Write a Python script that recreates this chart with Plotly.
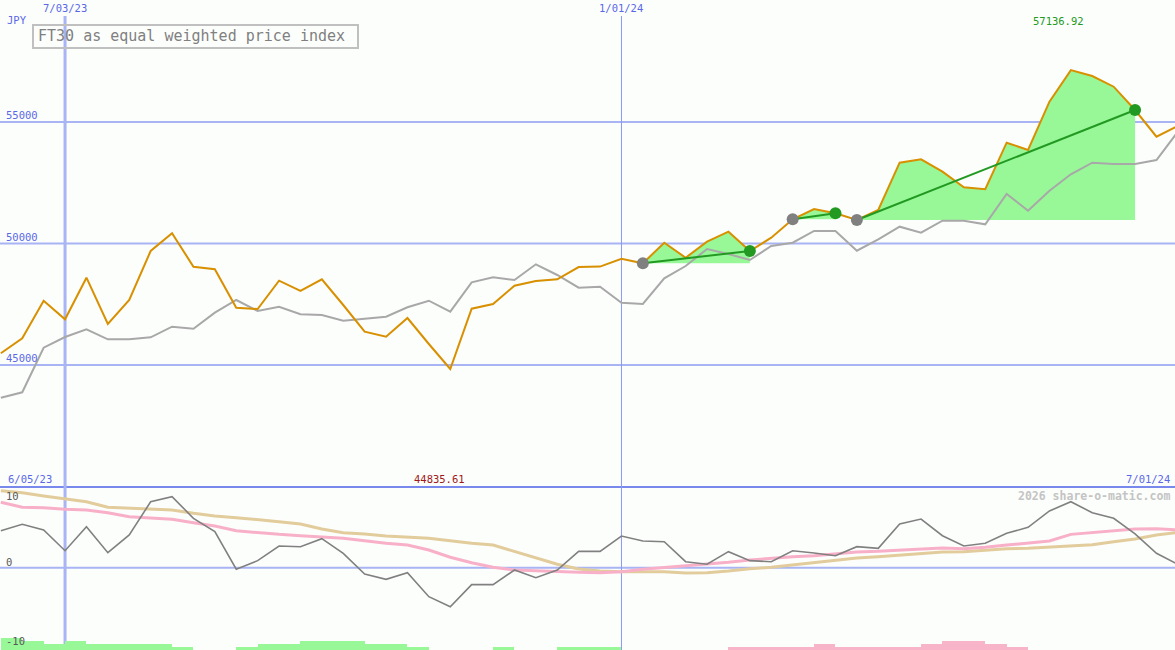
import plotly.graph_objects as go
import pandas as pd

# ---------------- data ----------------
dates = pd.date_range("2023-06-12", periods=56, freq="7D")

index_price = [45482, 46099, 47646, 46881, 48593, 46688, 47675, 49692, 50420, 49046,
               48939, 47358, 47305, 48469, 48046, 48527, 47470, 46371, 46165, 46935,
               45865, 44835.61, 47317, 47511, 48264, 48457, 48527, 49033, 49050, 49375,
               49185, 50033, 49416, 50074, 50486, 49692, 50239, 50996, 51420, 51243,
               50967, 51379, 53325, 53465, 52955, 52313, 52231, 54148, 53848, 55835,
               57136.92, 56893, 56453, 55494, 54395, 54835]

comparison = [43655, 43877, 45712, 46153, 46470, 46058, 46058, 46140, 46577, 46494,
              47153, 47675, 47223, 47400, 47087, 47058, 46823, 46906, 46988, 47375,
              47646, 47194, 48404, 48609, 48498, 49144, 48704, 48181, 48223, 47564,
              47511, 48568, 49074, 49774, 49568, 49321, 49897, 50033, 50515, 50515,
              49704, 50173, 50692, 50445, 50938, 50938, 50790, 52037, 51350, 52173,
              52848, 53325, 53272, 53272, 53436, 54601]

oscillator = [4.68, 5.49, 4.77, 2.15, 5.19, 1.90, 4.14, 8.35, 8.99, 6.25,
              4.56, -0.20, 0.89, 2.75, 2.66, 3.67, 1.82, -0.80, -1.47, -0.63,
              -3.67, -4.94, -2.15, -2.15, -0.29, -1.27, -0.29, 2.07, 2.07, 4.01,
              3.38, 3.29, 0.76, 0.43, 2.03, 0.89, 0.76, 2.15, 1.86, 1.52,
              2.66, 2.45, 5.53, 6.16, 4.05, 2.75, 3.09, 4.35, 5.11, 7.18,
              8.35, 6.96, 6.25, 4.27, 1.82, 0.43]

osc_fast = [8.28, 7.65, 7.60, 7.39, 7.30, 6.96, 6.46, 6.33, 6.12, 5.70,
            5.28, 4.68, 4.43, 4.22, 4.05, 3.92, 3.72, 3.42, 3.09, 2.87,
            2.24, 1.32, 0.63, 0.05, -0.29, -0.38, -0.51, -0.59, -0.63, -0.51,
            -0.20, 0.00, 0.22, 0.43, 0.68, 0.97, 1.19, 1.39, 1.52, 1.73,
            1.99, 2.07, 2.24, 2.41, 2.49, 2.41, 2.58, 2.87, 3.09, 3.38,
            4.22, 4.43, 4.73, 4.90, 4.94, 4.77]

osc_slow = [9.75, 9.49, 9.08, 8.70, 8.35, 7.65, 7.52, 7.39, 7.30, 6.88,
            6.54, 6.33, 6.12, 5.82, 5.53, 4.90, 4.43, 4.27, 4.01, 3.85,
            3.72, 3.42, 3.09, 2.87, 2.03, 1.19, 0.43, -0.16, -0.42, -0.51,
            -0.51, -0.51, -0.67, -0.63, -0.42, -0.13, 0.05, 0.34, 0.68, 0.97,
            1.23, 1.39, 1.61, 1.82, 1.99, 2.03, 2.24, 2.41, 2.45, 2.58,
            2.75, 2.91, 3.29, 3.63, 4.14, 4.48]

bar_levels = [4, 3, 2, 3, 2, 2, 2, 2, 1, 0,
              0, 1, 2, 2, 3, 3, 3, 2, 2, 1,
              0, 0, 0, 1, 0, 0, 1, 1, 1, 0,
              0, 0, 0, 0, -1, -1, -1, -1, -2, -1,
              -1, -1, -1, -2, -3, -3, -2, -1, 0, 0,
              0, 0, 0, 0, 0]

trend_segments = [(30, 35), (37, 39), (40, 53)]

title_text = "FT30 as equal weighted price index"
currency = "JPY"
price_ticks = [55000, 50000, 45000]
osc_ticks = [10, 0, -10]
vline_dates = ["2023-07-03", "2024-01-01"]
vline_labels = ["7/03/23", "1/01/24"]
start_label = "6/05/23"
end_label = "7/01/24"
credit = "2026 share-o-matic.com"

# ---------------- styling ----------------
W, H = 1175, 650
BG = "#fcfefc"
GRID = "#a8b4f4"
BLUE_TXT = "#5a68e8"
ORANGE = "#d89000"
GREY = "#a8a8a8"
FILL = "#98f898"
DKGREEN = "#229a22"
MONO = "DejaVu Sans Mono"

def fx(px):
    return px / W

def fy(py):
    return 1 - py / H

top_dom = [fy(478), 1]
bot_dom = [0, fy(487)]
top_range = [40350.6, 60020.3]
bot_range = [-10.42, 10.215]

fig = go.Figure()

# green filled areas and trend lines
for s, e in trend_segments:
    xs = list(dates[s:e + 1])
    ys = index_price[s:e + 1]
    base = index_price[s]
    fig.add_trace(go.Scatter(x=xs + xs[::-1], y=ys + [base] * len(xs),
                             fill="toself", fillcolor=FILL, mode="none",
                             xaxis="x", yaxis="y", hoverinfo="skip"))

fig.add_trace(go.Scatter(x=dates, y=comparison, mode="lines",
                         line=dict(color=GREY, width=2), xaxis="x", yaxis="y"))
fig.add_trace(go.Scatter(x=dates, y=index_price, mode="lines",
                         line=dict(color=ORANGE, width=2), xaxis="x", yaxis="y"))

for s, e in trend_segments:
    fig.add_trace(go.Scatter(x=[dates[s], dates[e]], y=[index_price[s], index_price[e]],
                             mode="lines", line=dict(color=DKGREEN, width=2),
                             xaxis="x", yaxis="y"))
    fig.add_trace(go.Scatter(x=[dates[s]], y=[index_price[s]], mode="markers",
                             marker=dict(color="#808080", size=12), xaxis="x", yaxis="y"))
    fig.add_trace(go.Scatter(x=[dates[e]], y=[index_price[e]], mode="markers",
                             marker=dict(color=DKGREEN, size=12), xaxis="x", yaxis="y"))

# bottom panel
week_ms = 7 * 24 * 3600 * 1000
bar_x = list(dates[:len(bar_levels)])
fig.add_trace(go.Bar(x=bar_x, y=[abs(v) for v in bar_levels],
                     marker=dict(color=[FILL if v > 0 else "#f8b4c8" for v in bar_levels],
                                 line=dict(width=0)),
                     width=week_ms, offset=0, xaxis="x", yaxis="y3"))
fig.add_trace(go.Scatter(x=dates, y=osc_slow, mode="lines",
                         line=dict(color="#e2cc9c", width=3), xaxis="x", yaxis="y2"))
fig.add_trace(go.Scatter(x=dates, y=osc_fast, mode="lines",
                         line=dict(color="#f8b0c8", width=3), xaxis="x", yaxis="y2"))
fig.add_trace(go.Scatter(x=dates, y=oscillator, mode="lines",
                         line=dict(color="#808080", width=1.6), xaxis="x", yaxis="y2"))

shapes = []
# horizontal price grid
for t in price_ticks:
    shapes.append(dict(type="line", xref="paper", yref="y", x0=0, x1=1, y0=t, y1=t,
                       line=dict(color=GRID, width=2), layer="below"))
# zero line bottom
shapes.append(dict(type="line", xref="paper", yref="y2", x0=0, x1=1, y0=0, y1=0,
                   line=dict(color=GRID, width=2), layer="below"))
# bottom panel top border
shapes.append(dict(type="line", xref="paper", yref="paper", x0=0, x1=1,
                   y0=fy(487), y1=fy(487), line=dict(color="#7888ec", width=2), layer="below"))
# vertical date lines
for d, w in zip(vline_dates, [3, 1]):
    shapes.append(dict(type="line", xref="x", yref="paper", x0=d, x1=d,
                       y0=fy(16), y1=0, line=dict(color=GRID if w > 1 else "#8c98f4", width=w),
                       layer="below"))
# title box
shapes.append(dict(type="rect", xref="paper", yref="paper", x0=fx(33), x1=fx(358),
                   y0=fy(48), y1=fy(25), line=dict(color="#c0c0c0", width=2),
                   fillcolor="rgba(0,0,0,0)"))

ann = []

def txt(text, x, y, color, size=10, xanchor="left", bold=False):
    if bold:
        text = "<b>" + text + "</b>"
    ann.append(dict(text=text, x=fx(x), y=fy(y), xref="paper", yref="paper",
                    xanchor=xanchor, yanchor="middle", showarrow=False,
                    font=dict(family=MONO, size=size, color=color)))

txt(currency, 5, 20, BLUE_TXT, size=10.5)
for d, lab in zip(vline_dates, vline_labels):
    ann.append(dict(text=lab, x=d, y=fy(8), xref="x", yref="paper", xanchor="center",
                    yanchor="middle", showarrow=False,
                    font=dict(family=MONO, size=10.5, color=BLUE_TXT)))
for t in price_ticks:
    py = 122 + (55000 - t) / 41.15
    txt(str(t), 4, py - 7, BLUE_TXT, size=10.5)
txt(title_text, 36, 36.5, "#808080", size=15)
txt(f"{max(index_price):.2f}", 1058, 21, DKGREEN, size=10.5, xanchor="center")
txt(f"{min(index_price):.2f}", 439, 479, "#a01818", size=10.5, xanchor="center")
txt(start_label, 6, 479, BLUE_TXT, size=10.5)
txt(end_label, 1172, 479, BLUE_TXT, size=10.5, xanchor="right")
txt(credit, 1172, 496, "#c4c4c4", size=11.5, xanchor="right", bold=True)
for t, py in zip(osc_ticks, [496, 562, 641]):
    txt(str(t), 4, py, "#585858", size=10.5)

fig.update_layout(
    width=W, height=H, margin=dict(l=0, r=0, t=0, b=0),
    paper_bgcolor=BG, plot_bgcolor=BG, showlegend=False,
    xaxis=dict(type="date", range=["2023-06-11 17:20:00", "2024-06-30 01:30:00"],
               visible=False, showgrid=False, zeroline=False),
    yaxis=dict(domain=top_dom, range=top_range, visible=False, showgrid=False, zeroline=False),
    yaxis2=dict(domain=bot_dom, range=bot_range, anchor="x", visible=False,
                showgrid=False, zeroline=False),
    yaxis3=dict(domain=bot_dom, range=[0, 163 / 3], anchor="x", overlaying="y2",
                visible=False, showgrid=False, zeroline=False),
    shapes=shapes, annotations=ann, bargap=0,
)

fig.write_html("out.html", config={"displayModeBar": False},
               post_script="document.body.style.margin='0';")
